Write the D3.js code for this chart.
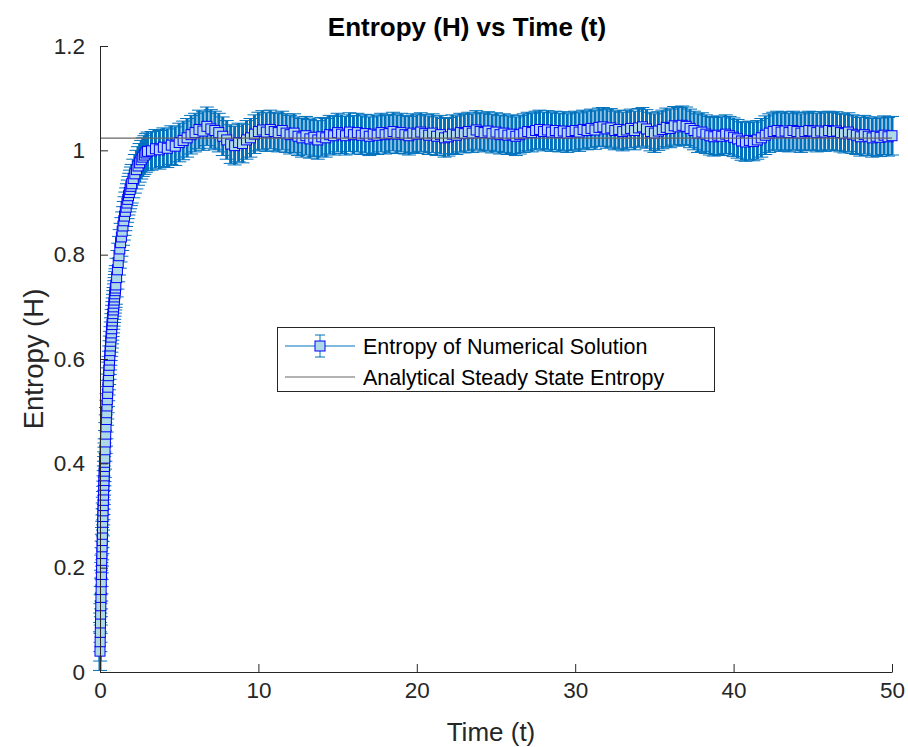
<!DOCTYPE html>
<html><head><meta charset="utf-8">
<script src="https://cdn.jsdelivr.net/npm/d3@7"></script>
<style>body{margin:0;background:#fff}svg{display:block}</style>
</head><body>
<svg id="chart" width="908" height="747"></svg>
<script>
// ---------- data ----------
const riseTimes = [
  0, 0.01, 0.02, 0.03, 0.04, 0.05, 0.06, 0.07, 0.08, 0.09,
  0.10, 0.11, 0.12, 0.13, 0.14, 0.15, 0.16, 0.17, 0.18, 0.19,
  0.20, 0.21, 0.22, 0.23, 0.24, 0.25, 0.26, 0.27, 0.28, 0.29,
  0.30, 0.32, 0.34, 0.36, 0.38, 0.40, 0.42, 0.44, 0.46, 0.48,
  0.50, 0.52, 0.54, 0.56, 0.58, 0.60, 0.62, 0.64, 0.66, 0.68,
  0.70, 0.72, 0.74, 0.76, 0.78, 0.80, 0.82, 0.84, 0.86, 0.88,
  0.90, 0.92, 0.94, 0.96, 0.98, 1.00, 1.05, 1.10, 1.15, 1.20,
  1.25, 1.30, 1.35, 1.40, 1.45, 1.50, 1.55, 1.60, 1.65, 1.70,
  1.75, 1.80, 1.85, 1.90, 1.95, 2.00, 2.1, 2.2, 2.3, 2.4,
  2.5, 2.6, 2.7, 2.8, 2.9, 3.0
];
const riseEntropy = [
  0.040, 0.058, 0.076, 0.094, 0.111, 0.127, 0.143, 0.158, 0.173, 0.187,
  0.201, 0.214, 0.227, 0.240, 0.252, 0.264, 0.276, 0.287, 0.298, 0.309,
  0.319, 0.329, 0.339, 0.349, 0.358, 0.367, 0.376, 0.385, 0.394, 0.402,
  0.410, 0.426, 0.441, 0.456, 0.470, 0.484, 0.497, 0.510, 0.522, 0.534,
  0.546, 0.557, 0.568, 0.578, 0.588, 0.598, 0.607, 0.616, 0.625, 0.634,
  0.642, 0.650, 0.658, 0.666, 0.673, 0.680, 0.687, 0.694, 0.700, 0.707,
  0.713, 0.719, 0.725, 0.731, 0.736, 0.742, 0.756, 0.771, 0.785, 0.798,
  0.811, 0.823, 0.834, 0.845, 0.855, 0.865, 0.874, 0.883, 0.891, 0.899,
  0.906, 0.913, 0.919, 0.925, 0.931, 0.936, 0.946, 0.955, 0.963, 0.970,
  0.976, 0.982, 0.987, 0.991, 0.995, 0.998
];
const steadyTimes = [
  3.25,3.5,3.75,4, 4.25,4.5,4.75,5, 5.25,5.5,5.75,6, 6.25,6.5,6.75,7,
  7.25,7.5,7.75,8, 8.25,8.5,8.75,9, 9.25,9.5,9.75,10, 10.25,10.5,10.75,11,
  11.25,11.5,11.75,12, 12.25,12.5,12.75,13, 13.25,13.5,13.75,14, 14.25,14.5,14.75,15,
  15.25,15.5,15.75,16, 16.25,16.5,16.75,17, 17.25,17.5,17.75,18, 18.25,18.5,18.75,19,
  19.25,19.5,19.75,20, 20.25,20.5,20.75,21, 21.25,21.5,21.75,22, 22.25,22.5,22.75,23,
  23.25,23.5,23.75,24, 24.25,24.5,24.75,25, 25.25,25.5,25.75,26, 26.25,26.5,26.75,27,
  27.25,27.5,27.75,28, 28.25,28.5,28.75,29, 29.25,29.5,29.75,30, 30.25,30.5,30.75,31,
  31.25,31.5,31.75,32, 32.25,32.5,32.75,33, 33.25,33.5,33.75,34, 34.25,34.5,34.75,35,
  35.25,35.5,35.75,36, 36.25,36.5,36.75,37, 37.25,37.5,37.75,38, 38.25,38.5,38.75,39,
  39.25,39.5,39.75,40, 40.25,40.5,40.75,41, 41.25,41.5,41.75,42, 42.25,42.5,42.75,43,
  43.25,43.5,43.75,44, 44.25,44.5,44.75,45, 45.25,45.5,45.75,46, 46.25,46.5,46.75,47,
  47.25,47.5,47.75,48, 48.25,48.5,48.75,49, 49.25,49.5,49.75,50
];
const steadyEntropy = [
  0.999,1.003,1.001,1.006, 1.004,1.010,1.008,1.015, 1.019,1.024,1.030,1.034, 1.040,1.037,1.046,1.041,
  1.038,1.034,1.027,1.020, 1.012,1.009,1.015,1.013, 1.020,1.024,1.031,1.036, 1.039,1.035,1.040,1.036,
  1.034,1.038,1.033,1.030, 1.033,1.027,1.024,1.028, 1.022,1.025,1.020,1.026, 1.024,1.030,1.028,1.034,
  1.031,1.028,1.035,1.030, 1.034,1.029,1.032,1.027, 1.031,1.029,1.034,1.030, 1.032,1.036,1.031,1.034,
  1.030,1.028,1.033,1.031, 1.035,1.032,1.029,1.033, 1.027,1.030,1.024,1.026, 1.031,1.029,1.034,1.032,
  1.036,1.033,1.039,1.036, 1.034,1.037,1.032,1.035, 1.030,1.033,1.029,1.031, 1.027,1.030,1.033,1.036,
  1.034,1.038,1.040,1.036, 1.039,1.035,1.038,1.034, 1.037,1.033,1.036,1.038, 1.035,1.040,1.038,1.042,
  1.039,1.044,1.045,1.041, 1.043,1.038,1.040,1.036, 1.039,1.042,1.038,1.043, 1.045,1.041,1.036,1.033,
  1.037,1.040,1.044,1.042, 1.047,1.045,1.048,1.046, 1.042,1.038,1.033,1.035, 1.031,1.028,1.026,1.029,
  1.027,1.031,1.028,1.025, 1.022,1.018,1.016,1.019, 1.017,1.020,1.024,1.029, 1.033,1.036,1.038,1.035,
  1.037,1.034,1.038,1.036, 1.033,1.036,1.038,1.037, 1.034,1.037,1.035,1.038, 1.036,1.037,1.034,1.032,
  1.035,1.031,1.029,1.026, 1.030,1.027,1.024,1.027, 1.025,1.029,1.026,1.028
];
const entropyError = 0.037;          // half-length of each error bar
const steadyStateEntropy = 1.0235;   // analytical value
const xDomain = [0, 50];
const yDomain = [0, 1.2];
const xTicks = [0, 10, 20, 30, 40, 50];
const yTicks = [0, 0.2, 0.4, 0.6, 0.8, 1.0, 1.2];
const yTickLabels = ["0", "0.2", "0.4", "0.6", "0.8", "1", "1.2"];
const titleText = "Entropy (H) vs Time (t)";
const xLabelText = "Time (t)";
const yLabelText = "Entropy (H)";
const legendLabels = ["Entropy of Numerical Solution", "Analytical Steady State Entropy"];

// ---------- build ----------
const times = riseTimes.concat(steadyTimes);
const entropy = riseEntropy.concat(steadyEntropy);
const points = times.map((t, i) => ({ t, h: entropy[i], e: entropyError }));

const FONT = "'Liberation Sans', Arial, Helvetica, sans-serif";
const TXT = "#262626";
const ERR = "#0072BD";

const svg = d3.select("#chart");
const plot = { left: 100, right: 892, top: 46, bottom: 672 };
const x = d3.scaleLinear().domain(xDomain).range([plot.left, plot.right]);
const y = d3.scaleLinear().domain(yDomain).range([plot.bottom, plot.top]);

// error bars
const eb = svg.append("g");
const capHalf = 7;
eb.selectAll("line.v").data(points).join("line")
  .attr("x1", d => x(d.t)).attr("x2", d => x(d.t))
  .attr("y1", d => y(d.h - d.e)).attr("y2", d => y(d.h + d.e))
  .attr("stroke", ERR).attr("stroke-width", 3);
eb.selectAll("line.lo").data(points).join("line")
  .attr("x1", d => x(d.t) - capHalf).attr("x2", d => x(d.t) + capHalf)
  .attr("y1", d => y(d.h - d.e)).attr("y2", d => y(d.h - d.e))
  .attr("stroke", ERR).attr("stroke-width", 1);
eb.selectAll("line.hi").data(points).join("line")
  .attr("x1", d => x(d.t) - capHalf).attr("x2", d => x(d.t) + capHalf)
  .attr("y1", d => y(d.h + d.e)).attr("y2", d => y(d.h + d.e))
  .attr("stroke", ERR).attr("stroke-width", 1);

// connecting line
svg.append("path").datum(points)
  .attr("d", d3.line().x(d => x(d.t)).y(d => y(d.h)))
  .attr("fill", "none").attr("stroke", ERR).attr("stroke-width", 1);

// markers
const ms = 10;
svg.append("g").selectAll("rect").data(points).join("rect")
  .attr("x", d => x(d.t) - ms / 2).attr("y", d => y(d.h) - ms / 2)
  .attr("width", ms).attr("height", ms)
  .attr("fill", "#ADD8E6").attr("stroke", "#0000FF").attr("stroke-width", 1);

// analytical line
svg.append("line")
  .attr("x1", x(xDomain[0])).attr("x2", x(xDomain[1]))
  .attr("y1", y(steadyStateEntropy)).attr("y2", y(steadyStateEntropy))
  .attr("stroke", "#666666").attr("stroke-width", 1.2);

// axes
const xAxis = d3.axisBottom(x).tickValues(xTicks).tickFormat(d3.format("d"))
  .tickSizeInner(-8).tickSizeOuter(0).tickPadding(10);
const yAxis = d3.axisLeft(y).tickValues(yTicks).tickFormat((d, i) => yTickLabels[i])
  .tickSizeInner(-8).tickSizeOuter(0).tickPadding(15);
const gx = svg.append("g").attr("transform", `translate(0,${plot.bottom})`).call(xAxis);
const gy = svg.append("g").attr("transform", `translate(${plot.left},0)`).call(yAxis);
[gx, gy].forEach(g => {
  g.select(".domain").attr("stroke", TXT).attr("stroke-width", 1);
  g.selectAll(".tick line").attr("stroke", TXT);
  g.selectAll(".tick text").attr("fill", TXT).style("font-family", FONT).style("font-size", "22.5px");
});

// title and labels
svg.append("text").attr("x", 467).attr("y", 36)
  .attr("text-anchor", "middle").attr("fill", "#000")
  .style("font-family", FONT).style("font-size", "26px").style("font-weight", "bold")
  .text(titleText);
svg.append("text").attr("x", 491).attr("y", 741)
  .attr("text-anchor", "middle").attr("fill", TXT)
  .style("font-family", FONT).style("font-size", "26px").text(xLabelText);
svg.append("text").attr("transform", `translate(43,${(plot.top + plot.bottom) / 2}) rotate(-90)`)
  .attr("text-anchor", "middle").attr("fill", TXT)
  .style("font-family", FONT).style("font-size", "27.5px").text(yLabelText);

// legend
const lg = svg.append("g");
lg.append("rect").attr("x", 277.5).attr("y", 327.5).attr("width", 437).attr("height", 64)
  .attr("fill", "#fff").attr("stroke", TXT).attr("stroke-width", 1);
const r1 = 346, r2 = 377;
lg.append("line").attr("x1", 285).attr("x2", 355).attr("y1", r1).attr("y2", r1)
  .attr("stroke", ERR).attr("stroke-width", 1);
lg.append("line").attr("x1", 320).attr("x2", 320).attr("y1", r1 - 11).attr("y2", r1 + 11)
  .attr("stroke", ERR).attr("stroke-width", 1);
[r1 - 11, r1 + 11].forEach(yy => lg.append("line").attr("x1", 315).attr("x2", 325)
  .attr("y1", yy).attr("y2", yy).attr("stroke", ERR).attr("stroke-width", 1));
lg.append("rect").attr("x", 315).attr("y", r1 - 5).attr("width", 10).attr("height", 10)
  .attr("fill", "#ADD8E6").attr("stroke", "#0000FF");
lg.append("line").attr("x1", 285).attr("x2", 355).attr("y1", r2).attr("y2", r2)
  .attr("stroke", "#666666").attr("stroke-width", 1.2);
[r1, r2].forEach((ry, i) => lg.append("text").attr("x", 363).attr("y", ry + 8)
  .attr("fill", "#000").style("font-family", FONT).style("font-size", "21.5px").text(legendLabels[i]));
</script>
</body></html>
